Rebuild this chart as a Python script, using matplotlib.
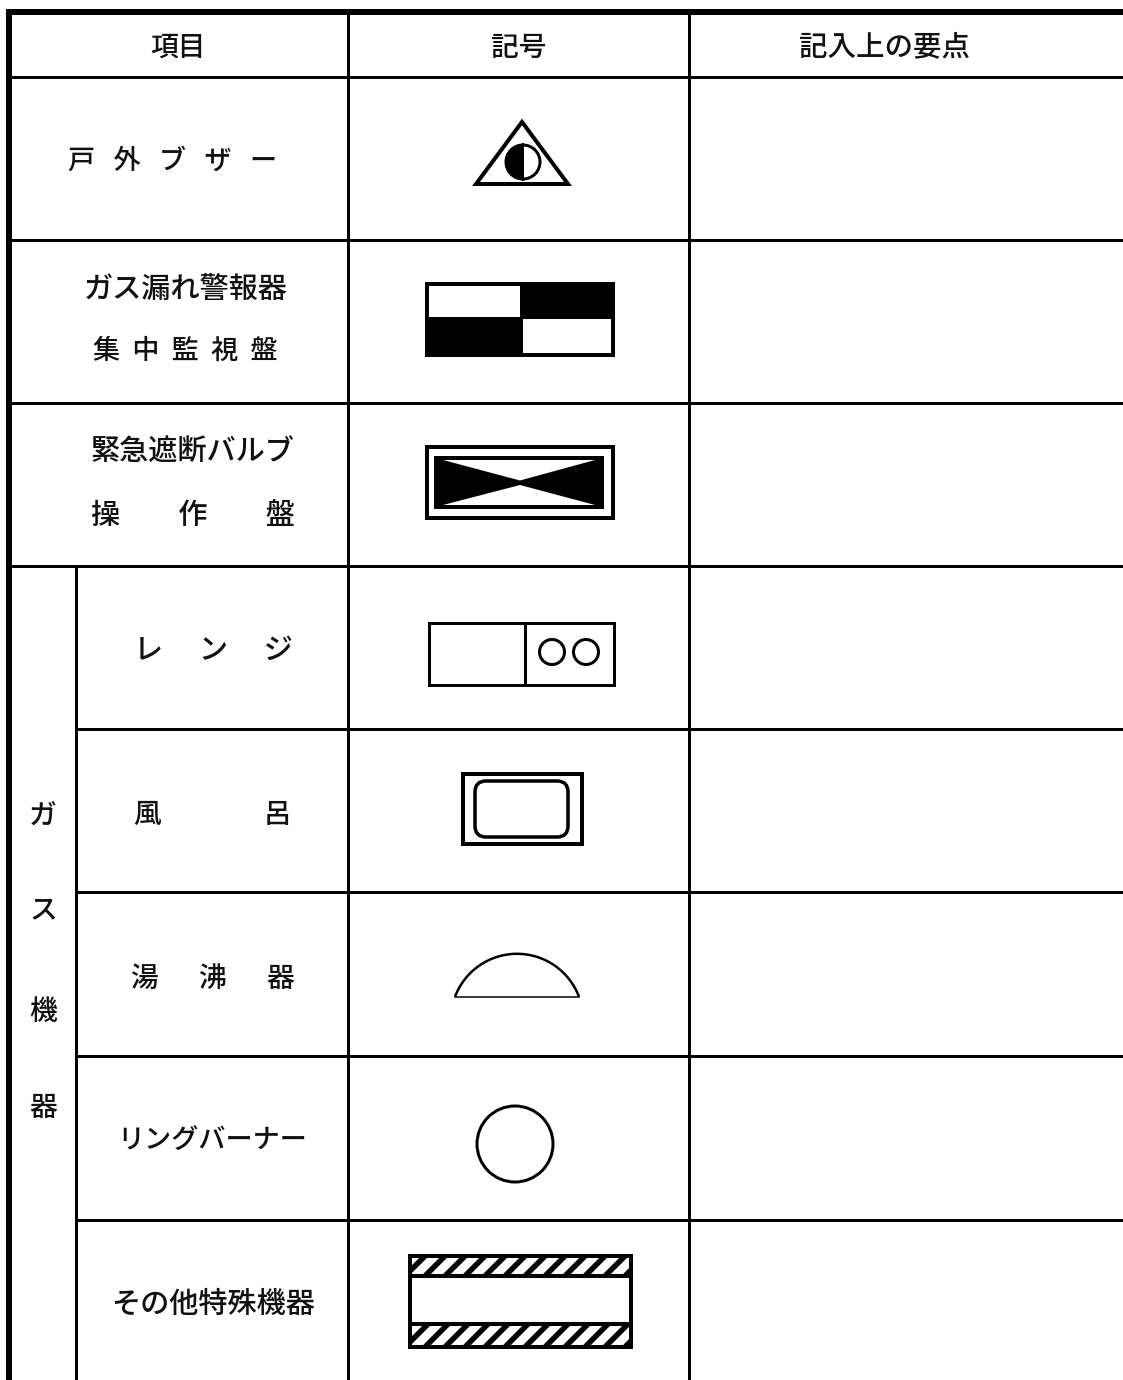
#!/usr/bin/env python
# coding: utf-8

import numpy as np
import matplotlib
matplotlib.use("Agg")
import matplotlib.pyplot as plt
from matplotlib.patches import Arc, Circle, FancyBboxPatch, Polygon, Rectangle

plt.rcParams['font.family'] = ['Noto Sans CJK JP', 'DejaVu Sans']

headers = ["項目", "記号", "記入上の要点"]
row_labels = ["戸   外   ブ   ザ   ー", "ガス漏れ警報器", "集  中  監  視  盤",
              "緊急遮断バルブ", "操　　作　　盤", "レ　 ン　 ジ",
              "風　　　   呂", "湯　  沸　  器", "リングバーナー", "その他特殊機器"]
group_label = ["ガ", "ス", "機", "器"]

PX = 0.72  # line width in points for one pixel at dpi 100


def rect(ax, x0, y0, x1, y1, lw=4, fc='none', ec='k'):
    ax.add_patch(Rectangle((x0, y0), x1 - x0, y1 - y0, fc=fc, ec=ec, lw=lw * PX))


def label(ax, x, y, s, size=20):
    ax.text(x, y, s, ha='center', va='center', fontsize=size, color='#111111', weight='medium')


fig = plt.figure(figsize=(11.23, 13.8), dpi=100)
ax = fig.add_axes([0, 0, 1, 1])
ax.set_xlim(0, 1123)
ax.set_ylim(1380, 0)
ax.axis('off')

# table frame
ax.plot([6, 1123], [12, 12], 'k', lw=6 * PX, solid_capstyle='butt')
ax.plot([9, 9], [9, 1380], 'k', lw=6 * PX, solid_capstyle='butt')
for y in [76.5, 239.5, 403, 566, 729, 892, 1056, 1220]:
    x0 = 76 if y > 566 else 9
    ax.plot([x0, 1123], [y, y], 'k', lw=3 * PX, solid_capstyle='butt')
for x, y0 in [(75.5, 566), (347.5, 12), (688.5, 12)]:
    ax.plot([x, x], [y0, 1380], 'k', lw=3 * PX, solid_capstyle='butt')

# texts
for x, s, size in zip([178, 519, 885], headers, [20, 20, 20.5]):
    label(ax, x, 47, s, size)
row_x = [173, 186, 185, 193, 193, 213, 213, 213, 212, 213]
row_y = [161, 289, 351, 452, 516, 650, 814, 978, 1140, 1304]
row_size = [19.5, 21, 19.5, 21, 21, 21, 20, 20, 19.5, 21]
for x, y, s, size in zip(row_x, row_y, row_labels, row_size):
    label(ax, x, y, s, size)
for y, s in zip([815, 911, 1011, 1108], group_label):
    label(ax, 43, y, s)

# outdoor buzzer
ax.add_patch(Polygon([(522, 122), (476, 184), (568, 184)], closed=True,
                     fc='none', ec='k', lw=4 * PX, joinstyle='miter'))
ax.add_patch(Circle((523, 162), 17, fc='white', ec='k', lw=3 * PX))
t = np.linspace(np.pi / 2, 3 * np.pi / 2, 60)
ax.fill(523 + 18 * np.cos(t), 162 + 18 * np.sin(t), 'k')
ax.plot([523, 523], [144, 180], 'k', lw=2 * PX)

# monitoring panel
rect(ax, 427, 284, 613, 355)
ax.add_patch(Rectangle((520, 284), 95, 35, fc='k', ec='none'))
ax.add_patch(Rectangle((425, 317), 98, 40, fc='k', ec='none'))

# shut-off valve panel
rect(ax, 427, 447, 613, 518)
ax.add_patch(Rectangle((434, 456), 170, 53, fc='k', ec='none'))
ax.add_patch(Polygon([(443, 460), (595, 460), (520, 480.5)], fc='white', ec='none'))
ax.add_patch(Polygon([(443, 505), (595, 505), (520, 485)], fc='white', ec='none'))

# range
rect(ax, 429, 622.5, 613.5, 684.5, lw=3)
ax.plot([525, 525], [623, 684], 'k', lw=3 * PX, solid_capstyle='butt')
ax.add_patch(Circle((552, 652), 12.5, fc='none', ec='k', lw=3 * PX))
ax.add_patch(Circle((586, 652), 12.5, fc='none', ec='k', lw=3 * PX))

# bath
rect(ax, 463, 774, 582, 844)
ax.add_patch(FancyBboxPatch((485, 791), 73, 36, boxstyle="round,pad=10,rounding_size=11",
                            fc='none', ec='k', lw=3.5 * PX))

# water heater
ax.add_patch(Arc((517, 1020), 132.4, 132.4, theta1=200.5, theta2=339.5, ec='k', lw=2.5 * PX))
ax.plot([455, 579], [997, 997], 'k', lw=1.5 * PX)

# ring burner
ax.add_patch(Circle((515, 1144), 38, fc='none', ec='k', lw=3 * PX))

# other special appliance
for y0, y1 in [(1256, 1276), (1324, 1347)]:
    clip = Rectangle((410, y0), 220.5, y1 - y0, transform=ax.transData)
    for x in np.arange(385, 660, 20):
        line, = ax.plot([x, x + (y1 - y0)], [y1, y0], 'k', lw=5.5 * PX, solid_capstyle='butt')
        line.set_clip_path(clip)
    ax.plot([410, 630.5], [y0, y0], 'k', lw=4 * PX)
    ax.plot([410, 630.5], [y1, y1], 'k', lw=4 * PX)
rect(ax, 410, 1256, 630.5, 1347)

fig.savefig("out.png", dpi=100)
